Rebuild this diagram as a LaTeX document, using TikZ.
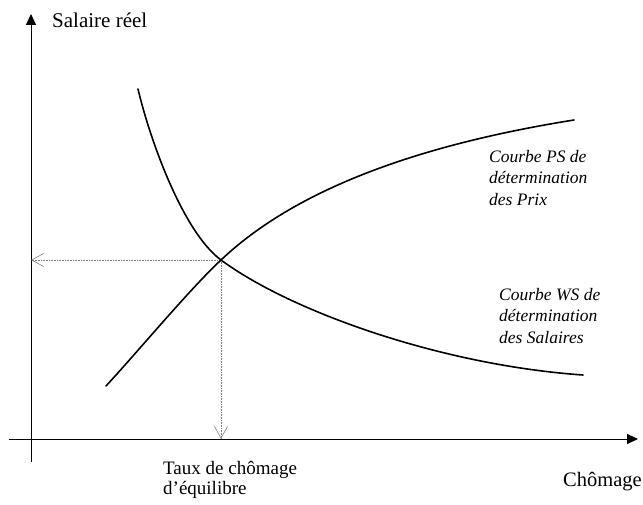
\documentclass[tikz,border=0pt]{standalone}
\usepackage{fontspec}
\setmainfont{Liberation Serif}
\usetikzlibrary{arrows.meta}
\begin{document}
\begin{tikzpicture}[x=1pt,y=-1pt,
  axis/.style={line width=0.9pt,-{Triangle[length=11pt,width=10pt]}},
  curve/.style={line width=1.6pt,line cap=round},
  guide/.style={gray,line width=0.8pt,dash pattern=on 0.8pt off 0.8pt,
    -{Straight Barb[length=12pt,width=13pt,line width=0.6pt]}},
  lbl/.style={inner sep=0pt},
  curvelbl/.style={inner sep=0pt,align=left,anchor=north west,
    font=\fontsize{17.5}{21.5}\selectfont\itshape}]
\useasboundingbox (0,0) rectangle (643,505);

% axes
\coordinate (ybot) at (31,462);
\coordinate (ytop) at (31,14);
\coordinate (xl) at (9,439);
\coordinate (xr) at (638,439);
\draw[axis] (ybot) -- (ytop);
\draw[axis] (xl) -- (xr);

% equilibrium point and its projections on the axes
\coordinate (E) at (221,260);
\coordinate (Ey) at (31,260);
\coordinate (Ex) at (221,439);
\draw[guide] (E) -- (Ey);
\draw[guide] (E) -- (Ex);

% price-setting curve (PS)
\coordinate (ps0) at (106,386);
\coordinate (ps1) at (574,120);
\draw[curve] (ps0) .. controls (141,348) and (189,290) .. (E)
                   .. controls (300,185) and (430,143) .. (ps1);
% wage-setting curve (WS)
\coordinate (ws0) at (138,89);
\coordinate (ws1) at (583,375);
\draw[curve] (ws0) .. controls (150,140) and (183,232) .. (E)
                   .. controls (290,311) and (440,365) .. (ws1);

% labels
\node[lbl,anchor=base west,font=\fontsize{21}{24}\selectfont] (ylab) at (52,28) {Salaire réel};
\node[lbl,anchor=base west,font=\fontsize{20.5}{24}\selectfont] (xlab) at (563,486) {Chômage};
\node[lbl,anchor=north west,align=left,font=\fontsize{19}{20.5}\selectfont] (ulab) at (163,461)
  {Taux de chômage\\d’équilibre};
\node[curvelbl] (pslab) at (489,150) {Courbe PS de\\détermination\\des Prix};
\node[curvelbl] (wslab) at (499,288) {Courbe WS de\\détermination\\des Salaires};
\end{tikzpicture}
\end{document}
